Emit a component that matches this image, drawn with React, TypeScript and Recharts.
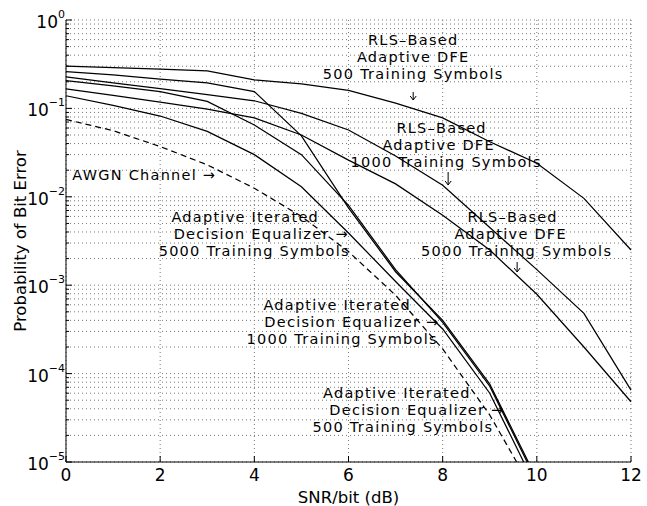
import { LineChart, Line, XAxis, YAxis, CartesianGrid, ReferenceDot } from "recharts";

// SNR per bit (dB) and bit error rates
const SNR = [0, 1, 2, 3, 4, 5, 6, 7, 8, 9, 10, 11, 12];
const RLS_500 = [0.3, 0.29, 0.278, 0.265, 0.21, 0.19, 0.16, 0.115, 0.078, 0.042, 0.024, 0.0096, 0.0025];
const RLS_1000 = [0.228, 0.195, 0.167, 0.143, 0.122, 0.088, 0.057, 0.029, 0.0135, 0.0045, 0.0015, 0.00048, 0.000065];
const RLS_5000 = [0.166, 0.14, 0.118, 0.098, 0.078, 0.05, 0.026, 0.014, 0.0062, 0.0025, 0.00079, 0.0002, 0.000048];
const AIDE_500 = [0.26, 0.24, 0.215, 0.195, 0.155, 0.049, 0.0075, 0.00142, 0.0004, 0.000076, 0.0000064];
const AIDE_1000 = [0.206, 0.18, 0.155, 0.12, 0.065, 0.03, 0.008, 0.0015, 0.00038, 0.000072, 0.000006];
const AIDE_5000 = [0.139, 0.108, 0.082, 0.055, 0.03, 0.013, 0.0039, 0.0011, 0.00032, 0.00006, 0.000005];
const AWGN = [0.075, 0.056, 0.037, 0.023, 0.0125, 0.006, 0.0024, 0.00077, 0.00019, 0.000034, 0.000004];

const X_TICKS = [0, 2, 4, 6, 8, 10, 12];
const Y_DECADES = [1e-5, 1e-4, 1e-3, 1e-2, 1e-1, 1];
const DECADE_EXP = ["−5", "−4", "−3", "−2", "−1", "0"];
const MINOR_STEPS = [2, 3, 4, 5, 6, 7, 8, 9];

const Y_TICKS = [
  ...Y_DECADES,
  ...Y_DECADES.slice(0, -1).flatMap((d) => MINOR_STEPS.map((m) => m * d)),
];

const data = SNR.map((snr, i) => ({
  snr,
  rls500: RLS_500[i],
  rls1000: RLS_1000[i],
  rls5000: RLS_5000[i],
  aide500: AIDE_500[i],
  aide1000: AIDE_1000[i],
  aide5000: AIDE_5000[i],
  awgn: AWGN[i],
}));

type NoteLine = { t: string; dx: number; dy: number; anchor?: string };
type NoteArrow = { dx: number; y1: number; y2: number };
type Note = { x: number; y: number; lines: NoteLine[]; arrow?: NoteArrow };

const NOTES: Note[] = [
  {
    x: 7.374, y: 0.571,
    lines: [
      { t: "RLS–Based", dx: 0, dy: -1.5 },
      { t: "Adaptive DFE", dx: 0, dy: 15.5 },
      { t: "500 Training Symbols", dx: 0, dy: 32.5 },
    ],
    arrow: { dx: 0, y1: 50.5, y2: 58.5 },
  },
  {
    x: 7.978, y: 0.0585,
    lines: [
      { t: "RLS–Based", dx: 0, dy: -0.75 },
      { t: "Adaptive DFE", dx: -3, dy: 16.25 },
      { t: "1000 Training Symbols", dx: 4.5, dy: 33.25 },
    ],
    arrow: { dx: 6.5, y1: 43, y2: 56 },
  },
  {
    x: 9.486, y: 0.00583,
    lines: [
      { t: "RLS–Based", dx: 0, dy: -0.75 },
      { t: "Adaptive DFE", dx: -2, dy: 16.25 },
      { t: "5000 Training Symbols", dx: 4, dy: 33.25 },
    ],
    arrow: { dx: 4.5, y1: 44.5, y2: 54.5 },
  },
  {
    x: 0.134, y: 0.01765,
    lines: [{ t: "AWGN Channel →", dx: 0, dy: 0, anchor: "start" }],
  },
  {
    x: 3.807, y: 0.00576,
    lines: [
      { t: "Adaptive Iterated", dx: 0, dy: -1 },
      { t: "Decision Equalizer →", dx: 16, dy: 16 },
      { t: "5000 Training Symbols", dx: 9, dy: 33 },
    ],
  },
  {
    x: 5.76, y: 0.000574,
    lines: [
      { t: "Adaptive Iterated", dx: 0, dy: -1.5 },
      { t: "Decision Equalizer →", dx: 14.7, dy: 15.5 },
      { t: "1000 Training Symbols", dx: 5, dy: 32.5 },
    ],
  },
  {
    x: 7.028, y: 0.0000603,
    lines: [
      { t: "Adaptive Iterated", dx: 0, dy: -0.3 },
      { t: "Decision Equalizer →", dx: 20, dy: 16.7 },
      { t: "500 Training Symbols", dx: 6, dy: 33.7 },
    ],
  },
];

const FONT = "DejaVu Sans";
const NOTE_SIZE = 14.5;
const NOTE_SPACING = 1.25;
const LABEL_SIZE = 16.5;

const decadeIndex = (v: number) =>
  Y_DECADES.findIndex((d) => Math.abs(Math.log10(d) - Math.log10(v)) < 1e-6);

function BottomTick({ x, y, payload }: any) {
  return (
    <g>
      <line x1={x} x2={x} y1={y} y2={y - 6} stroke="#000" />
      <text x={x} y={y + 19} textAnchor="middle" fontSize={17} fill="#000" fontFamily={FONT}>
        {payload.value}
      </text>
    </g>
  );
}

function TopTick({ x, y }: any) {
  return <line x1={x} x2={x} y1={y} y2={y + 6} stroke="#000" />;
}

function LeftTick({ x, y, payload }: any) {
  const k = decadeIndex(payload.value);
  return (
    <g>
      <line x1={x} x2={x + (k >= 0 ? 6 : 3)} y1={y} y2={y} stroke="#000" />
      {k >= 0 && (
        <text x={x - 1} y={y + 8} textAnchor="end" fontSize={17} fill="#000" fontFamily={FONT}>
          10
          <tspan dy={-10} fontSize={11}>
            {DECADE_EXP[k]}
          </tspan>
        </text>
      )}
    </g>
  );
}

function RightTick({ x, y, payload }: any) {
  const k = decadeIndex(payload.value);
  return <line x1={x} x2={x - (k >= 0 ? 6 : 3)} y1={y} y2={y} stroke="#000" />;
}

function NoteShape({ cx, cy, lines, arrow }: any) {
  return (
    <g>
      {lines.map((l: NoteLine, i: number) => (
        <text
          key={i}
          x={cx + l.dx}
          y={cy + l.dy + NOTE_SIZE * 0.36}
          textAnchor={l.anchor ?? "middle"}
          fontSize={NOTE_SIZE}
          letterSpacing={NOTE_SPACING}
          fontFamily={FONT}
          fill="#000"
        >
          {l.t}
        </text>
      ))}
      {arrow && (
        <path
          d={`M${cx + arrow.dx},${cy + arrow.y1} L${cx + arrow.dx},${cy + arrow.y2} M${cx + arrow.dx - 3},${cy + arrow.y2 - 4} L${cx + arrow.dx},${cy + arrow.y2} L${cx + arrow.dx + 3},${cy + arrow.y2 - 4}`}
          stroke="#000"
          strokeWidth={1}
          fill="none"
        />
      )}
    </g>
  );
}

function XLabel({ viewBox }: any) {
  const { x, y, width } = viewBox;
  return (
    <text x={x + width / 2} y={y + 41} textAnchor="middle" fontSize={LABEL_SIZE} fontFamily={FONT} fill="#000">
      SNR/bit (dB)
    </text>
  );
}

function YLabel({ viewBox }: any) {
  const { x, y, height } = viewBox;
  const cx = x + 14;
  const cy = y + height / 2;
  return (
    <text
      x={cx}
      y={cy}
      transform={`rotate(-90 ${cx} ${cy})`}
      textAnchor="middle"
      dominantBaseline="central"
      fontSize={LABEL_SIZE}
      fontFamily={FONT}
      fill="#000"
    >
      Probability of Bit Error
    </text>
  );
}

const SERIES = [
  { key: "rls500", dash: undefined },
  { key: "rls1000", dash: undefined },
  { key: "rls5000", dash: undefined },
  { key: "aide500", dash: undefined },
  { key: "aide1000", dash: undefined },
  { key: "aide5000", dash: undefined },
  { key: "awgn", dash: "6 4" },
];

export default function App() {
  return (
    <div style={{ position: "absolute", left: 0, top: 0, background: "#fff" }}>
      <LineChart
        width={647}
        height={506}
        data={data}
        margin={{ top: 20, right: 16, bottom: 0, left: 6 }}
        style={{ fontFamily: FONT }}
      >
        <CartesianGrid stroke="#777" strokeDasharray="1 3" />
        <XAxis
          dataKey="snr"
          type="number"
          domain={[0, 12]}
          ticks={X_TICKS}
          interval={0}
          height={44}
          tickSize={0}
          tickMargin={0}
          tickLine={false}
          axisLine={{ stroke: "#000" }}
          tick={<BottomTick />}
          label={<XLabel />}
        />
        <XAxis
          xAxisId="top"
          orientation="top"
          dataKey="snr"
          type="number"
          domain={[0, 12]}
          ticks={X_TICKS}
          interval={0}
          height={0}
          tickSize={0}
          tickMargin={0}
          tickLine={false}
          axisLine={{ stroke: "#000" }}
          tick={<TopTick />}
        />
        <YAxis
          scale="log"
          type="number"
          domain={[1e-5, 1]}
          allowDataOverflow
          ticks={Y_TICKS}
          interval={0}
          width={60}
          tickSize={0}
          tickMargin={0}
          tickLine={false}
          axisLine={{ stroke: "#000" }}
          tick={<LeftTick />}
          label={<YLabel />}
        />
        <YAxis
          yAxisId="right"
          orientation="right"
          scale="log"
          type="number"
          domain={[1e-5, 1]}
          allowDataOverflow
          ticks={Y_TICKS}
          interval={0}
          width={0}
          tickSize={0}
          tickMargin={0}
          tickLine={false}
          axisLine={{ stroke: "#000" }}
          tick={<RightTick />}
        />
        {SERIES.map((s) => (
          <Line
            key={s.key}
            type="linear"
            dataKey={s.key}
            stroke="#000"
            strokeWidth={1.25}
            strokeDasharray={s.dash}
            dot={false}
            activeDot={false}
            isAnimationActive={false}
          />
        ))}
        {NOTES.map((n, i) => (
          <ReferenceDot
            key={i}
            x={n.x}
            y={n.y}
            r={1}
            ifOverflow="visible"
            shape={(p: any) => <NoteShape cx={p.cx} cy={p.cy} lines={n.lines} arrow={n.arrow} />}
          />
        ))}
      </LineChart>
    </div>
  );
}
